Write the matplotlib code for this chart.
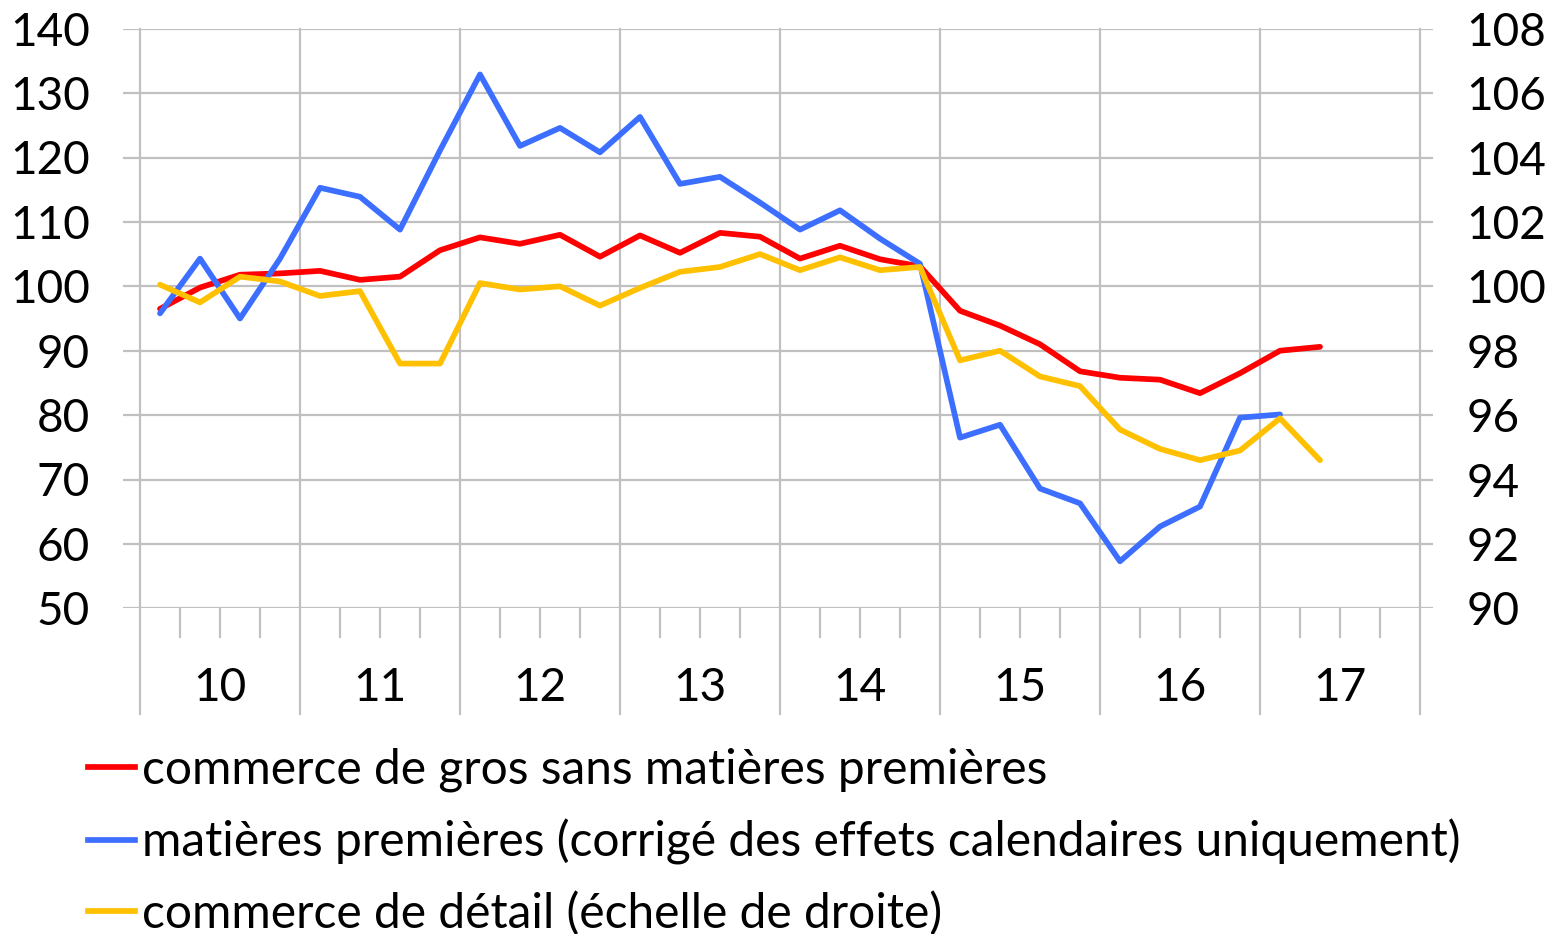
import matplotlib.pyplot as plt
from matplotlib.lines import Line2D
import numpy as np

plt.rcParams['font.family'] = ['Lato', 'DejaVu Sans']

# trimestres 2010T1 .. 2017T2
years = ['10', '11', '12', '13', '14', '15', '16', '17']

gros = [96.5, 99.8, 101.8, 102.0, 102.4, 101.0, 101.5, 105.6,
        107.6, 106.6, 108.0, 104.6, 107.9, 105.2, 108.3, 107.7,
        104.3, 106.3, 104.2, 103.1, 96.2, 93.9, 91.0, 86.8,
        85.8, 85.5, 83.4, 86.5, 90.0, 90.6]

matieres = [95.8, 104.3, 95.0, 104.3, 115.3, 113.9, 108.8, 121.1,
            132.9, 121.8, 124.6, 120.8, 126.3, 115.9, 117.0, 113.0,
            108.8, 111.8, 107.4, 103.5, 76.5, 78.5, 68.6, 66.3,
            57.3, 62.7, 65.8, 79.6, 80.1]

detail = [100.05, 99.5, 100.3, 100.15, 99.7, 99.85, 97.6, 97.6,
          100.1, 99.9, 100.0, 99.4, 99.95, 100.45, 100.6, 101.0,
          100.5, 100.9, 100.5, 100.6, 97.7, 98.0, 97.2, 96.9,
          95.55, 94.95, 94.6, 94.9, 95.9, 94.6]

labels = ['commerce de gros sans matières premières',
          'matières premières (corrigé des effets calendaires uniquement)',
          'commerce de détail (échelle de droite)']
colors = ['#FF0000', '#3C6EFF', '#FFC000']

grid_c = '#C0C0C0'
fs = 33
lw = 4.1

fig = plt.figure(figsize=(15.5, 9.34), dpi=100)
ax = fig.add_axes([123 / 1550, 325.7 / 934, 1310 / 1550, 579.6 / 934])
ax2 = ax.twinx()

ax.plot(np.arange(len(gros)), gros, color=colors[0], lw=lw, solid_capstyle='round', zorder=3)
ax.plot(np.arange(len(matieres)), matieres, color=colors[1], lw=lw, solid_capstyle='round', zorder=3)
ax2.plot(np.arange(len(detail)), detail, color=colors[2], lw=lw, solid_capstyle='round', zorder=3)

ax.set_xlim(-0.925, 31.825)
ax.set_ylim(50, 140)
ax.set_yticks(np.arange(50, 141, 10))
ax2.set_ylim(90, 108)
ax2.set_yticks(np.arange(90, 109, 2))
ax.set_xticks([])

for a in (ax, ax2):
    for s in a.spines.values():
        s.set_visible(False)
    a.tick_params(axis='y', length=0, labelsize=fs, colors='black')
ax.tick_params(axis='y', pad=24)
ax2.tick_params(axis='y', pad=24)
ax.yaxis.grid(True, color=grid_c, lw=1.6, zorder=0)
ax.set_axisbelow(True)

# axe des catégories à deux niveaux (trimestres / années)
tr = ax.get_xaxis_transform()
for k in range(len(years) + 1):
    xb = -0.5 + 4 * k
    ax.plot([xb, xb], [1, -0.183], color=grid_c, lw=1.6, transform=tr, clip_on=False, zorder=1)
for q in range(4 * len(years)):
    if q % 4:
        xq = -0.5 + q
        ax.plot([xq, xq], [0, -0.05], color=grid_c, lw=1.6, transform=tr, clip_on=False, zorder=1)
for k, y in enumerate(years):
    ax.text(1.5 + 4 * k, -0.137, y, transform=tr, ha='center', va='center', fontsize=fs)

handles = [Line2D([], [], color=c, lw=lw) for c in colors]
fig.legend(handles, labels, loc='upper left', bbox_to_anchor=(88 / 1550, 1 - 748 / 934),
           frameon=False, fontsize=34.5, handlelength=0.98, handletextpad=0.15,
           labelspacing=0.55, borderpad=0, borderaxespad=0)

fig.savefig('out.png', dpi=100)
